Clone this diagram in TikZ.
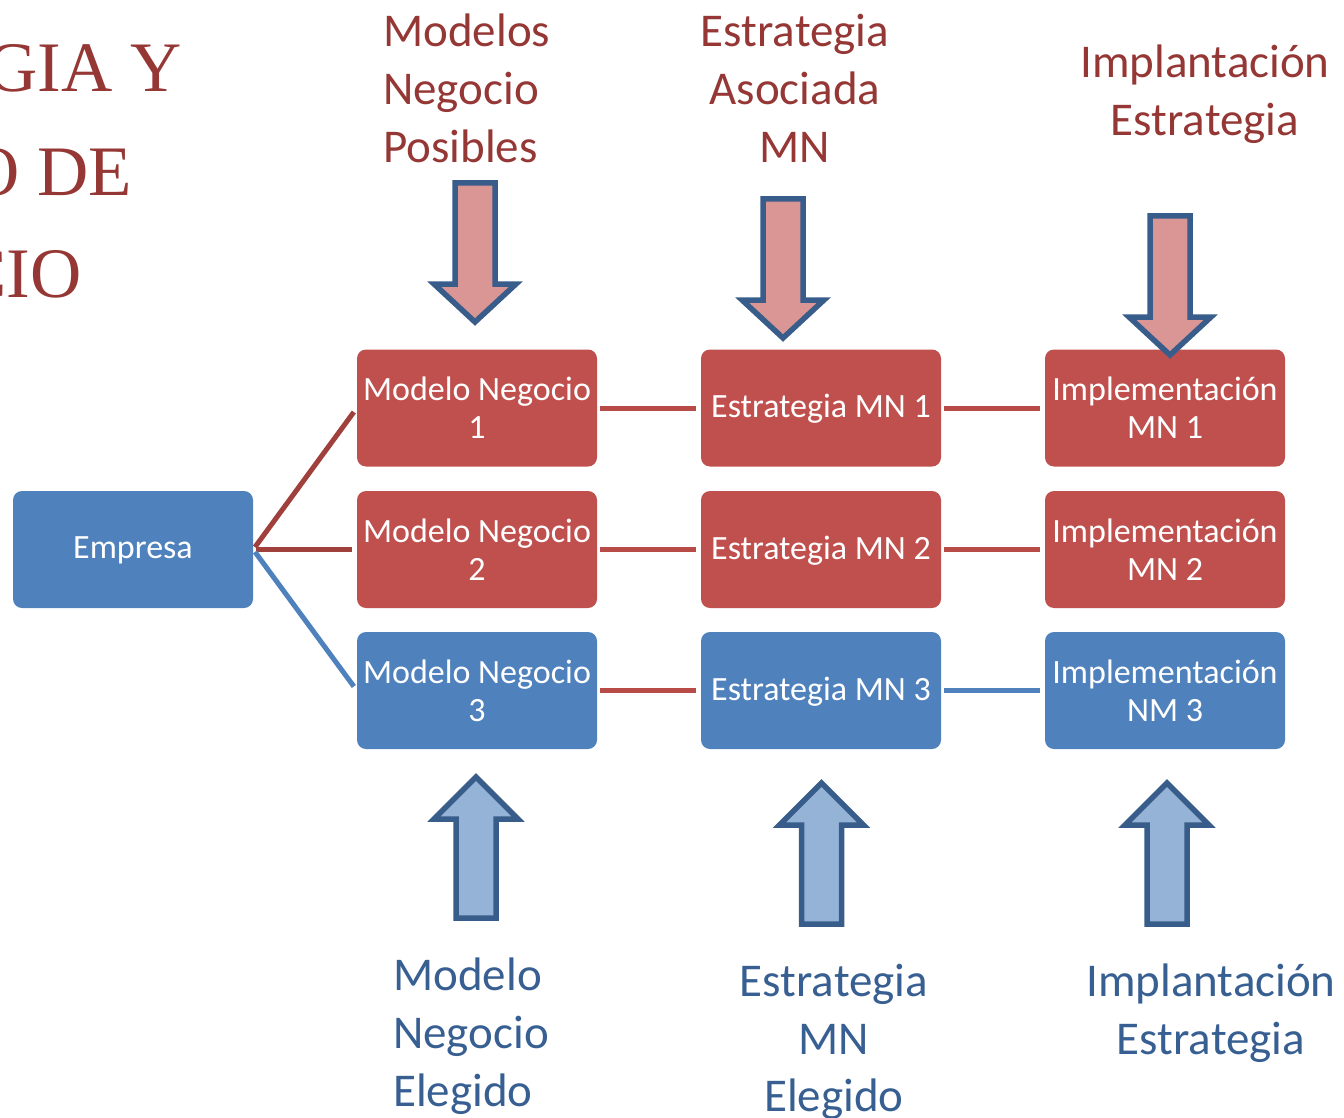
\documentclass[tikz,border=0pt]{standalone}
\usepackage{fontspec}
\setmainfont{Carlito}
\newfontfamily\titlefont{Liberation Serif}
\definecolor{boxred}{HTML}{C0504D}
\definecolor{boxblue}{HTML}{4F81BD}
\definecolor{linkred}{HTML}{B84A47}
\definecolor{forkred}{HTML}{A0403D}
\definecolor{linkblue}{HTML}{4F81BD}
\definecolor{toptext}{HTML}{953735}
\definecolor{bottext}{HTML}{375F92}
\definecolor{arrowedge}{HTML}{385D8A}
\definecolor{pinkfill}{HTML}{D99694}
\definecolor{bluefill}{HTML}{95B3D7}
\begin{document}
\begin{tikzpicture}[x=1pt,y=-1pt,
  box/.style={rounded corners=9pt, minimum width=240pt, minimum height=117pt,
    inner sep=1pt, align=center, text=white, font=\fontsize{34}{38}\selectfont},
  oneline/.style={text depth=4pt},
  redbox/.style={box, fill=boxred},
  bluebox/.style={box, fill=boxblue},
  link/.style={line width=5pt, shorten <=3pt, shorten >=5pt},
  redlink/.style={link, draw=linkred},
  forklink/.style={link, draw=forkred},
  bluelink/.style={link, draw=linkblue},
  heading/.style={font=\titlefont\fontsize{71}{102}\selectfont, text=toptext, inner sep=0pt},
  toplabel/.style={font=\fontsize{47}{58}\selectfont, text=toptext, inner sep=0pt},
  botlabel/.style={font=\fontsize{47}{58}\selectfont, text=bottext, inner sep=0pt},
  fatarrow/.style={draw=arrowedge, line width=5.5pt, miter limit=10},
  downarrow/.pic={\draw[fatarrow, fill=pinkfill]
    (-20,0) -- (20,0) -- (20,101) -- (41,101) -- (0,139) -- (-41,101) -- (-20,101) -- cycle;},
  uparrow/.pic={\draw[fatarrow, fill=bluefill]
    (-20,141) -- (20,141) -- (20,42) -- (42,42) -- (0,0) -- (-42,42) -- (-20,42) -- cycle;}
]
\useasboundingbox (0,0) rectangle (1344,1118);

% heading, running off the left edge
\begin{scope}
  \clip (0,0) rectangle (1344,1118);
  \node[heading, anchor=base east] (h1) at (182,92) {ESTRATEGIA Y};
  \node[heading, anchor=base east] (h2) at (132,196) {MODELO DE};
  \node[heading, anchor=base east] (h3) at (82,297) {NEGOCIO};
\end{scope}

% boxes
\node[bluebox, oneline] (emp) at (133,549.5) {Empresa};

\node[redbox]  (mn1) at (477,408)   {Modelo Negocio\\1};
\node[redbox]  (mn2) at (477,549.5) {Modelo Negocio\\2};
\node[bluebox] (mn3) at (477,690.5) {Modelo Negocio\\3};

\node[redbox, oneline]  (es1) at (821,408)   {Estrategia MN 1};
\node[redbox, oneline]  (es2) at (821,549.5) {Estrategia MN 2};
\node[bluebox, oneline] (es3) at (821,690.5) {Estrategia MN 3};

\node[redbox]  (im1) at (1165,408)   {Implementación\\MN 1};
\node[redbox]  (im2) at (1165,549.5) {Implementación\\MN 2};
\node[bluebox] (im3) at (1165,690.5) {Implementación\\NM 3};

% connectors
\draw[forklink] (emp.east) -- (mn1.west);
\draw[forklink] (emp.east) -- (mn2.west);
\draw[bluelink] (emp.east) -- (mn3.west);

\draw[redlink]  (mn1) -- (es1);
\draw[redlink]  (mn2) -- (es2);
\draw[redlink]  (mn3) -- (es3);
\draw[redlink]  (es1) -- (im1);
\draw[redlink]  (es2) -- (im2);
\draw[bluelink] (es3) -- (im3);

% block arrows
\pic at (475,183)  {downarrow};
\pic at (783,199)  {downarrow};
\pic at (1170,216) {downarrow};
\pic at (476,777)  {uparrow};
\pic at (821.5,783) {uparrow};
\pic at (1167,783) {uparrow};

% labels above
\node[toplabel, anchor=base west] (ta1) at (383,47)  {Modelos};
\node[toplabel, anchor=base west] (ta2) at (383,105) {Negocio};
\node[toplabel, anchor=base west] (ta3) at (383,163) {Posibles};

\node[toplabel, anchor=base] (tb1) at (795,47)  {Estrategia};
\node[toplabel, anchor=base] (tb2) at (795,105) {Asociada};
\node[toplabel, anchor=base] (tb3) at (795,163) {MN};

\node[toplabel, anchor=base] (tc1) at (1205,78)  {Implantación};
\node[toplabel, anchor=base] (tc2) at (1205,136) {Estrategia};

% labels below
\node[botlabel, anchor=base west] (ba1) at (393,990)  {Modelo};
\node[botlabel, anchor=base west] (ba2) at (393,1048) {Negocio};
\node[botlabel, anchor=base west] (ba3) at (393,1106) {Elegido};

\node[botlabel, anchor=base] (bb1) at (834,996)  {Estrategia};
\node[botlabel, anchor=base] (bb2) at (834,1054) {MN};
\node[botlabel, anchor=base] (bb3) at (834,1111) {Elegido};

\node[botlabel, anchor=base] (bc1) at (1211,996)  {Implantación};
\node[botlabel, anchor=base] (bc2) at (1211,1054) {Estrategia};
\end{tikzpicture}
\end{document}
